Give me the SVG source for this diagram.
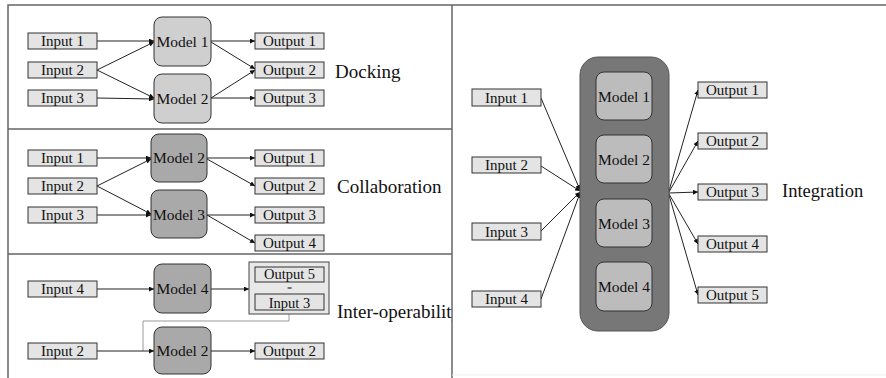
<svg xmlns="http://www.w3.org/2000/svg" width="886" height="378" viewBox="0 0 886 378">
  <defs>
    <marker id="arrow" viewBox="0 0 6 6" refX="6" refY="3" markerWidth="5" markerHeight="5" markerUnits="userSpaceOnUse" orient="auto">
      <path d="M0,0 L6,3 L0,6 Z" fill="#111"/>
    </marker>
    <clipPath id="leftPanel">
      <rect x="8" y="0" width="444" height="378"/>
    </clipPath>
  </defs>
  <style>
    text { font-family: "Liberation Serif", "Times New Roman", serif; fill: #111; }
    .lbl { font-size: 15px; text-anchor: middle; }
    .mlbl { font-size: 15.5px; text-anchor: middle; }
    .title { font-size: 19px; }
    .io { fill: #e4e4e4; stroke: #333; stroke-width: 1; }
    .mLight { fill: #cfcfcf; stroke: #333; stroke-width: 1; }
    .mDark { fill: #a9a9a9; stroke: #333; stroke-width: 1; }
    .mInner { fill: #bcbcbc; stroke: #333; stroke-width: 1; }
    .frame { fill: none; stroke: #666; stroke-width: 1.5; }
    .edge { fill: none; stroke: #222; stroke-width: 1; marker-end: url(#arrow); }
    .link { fill: none; stroke: #999; stroke-width: 1; }
  </style>

  <rect width="886" height="378" fill="#fff"/>

  <!-- panel frames -->
  <g id="frames">
    <path class="frame" d="M8,378 V5 H886"/>
    <path class="frame" d="M452,5 V378"/>
    <path class="frame" d="M8,129 H452 M8,254 H452"/>
    <path d="M452,375 H886" stroke="#eee" stroke-width="1"/>
  </g>

  <!-- connectors -->
  <g id="connectors">
    <!-- Docking -->
    <line class="edge" x1="97" y1="41" x2="154" y2="41"/>
    <line class="edge" x1="97" y1="70" x2="154" y2="42"/>
    <line class="edge" x1="97" y1="70" x2="154" y2="98"/>
    <line class="edge" x1="97" y1="98" x2="154" y2="99"/>
    <line class="edge" x1="211" y1="41" x2="255" y2="41"/>
    <line class="edge" x1="211" y1="42" x2="255" y2="69"/>
    <line class="edge" x1="211" y1="98" x2="255" y2="70"/>
    <line class="edge" x1="211" y1="98" x2="255" y2="98"/>
    <!-- Collaboration -->
    <line class="edge" x1="97" y1="158" x2="151" y2="158"/>
    <line class="edge" x1="97" y1="186" x2="151" y2="159"/>
    <line class="edge" x1="97" y1="186" x2="151" y2="214"/>
    <line class="edge" x1="97" y1="215" x2="151" y2="215"/>
    <line class="edge" x1="207" y1="158" x2="255" y2="158"/>
    <line class="edge" x1="207" y1="159" x2="255" y2="186"/>
    <line class="edge" x1="207" y1="215" x2="255" y2="215"/>
    <line class="edge" x1="207" y1="215" x2="255" y2="243"/>
    <!-- Inter-operability -->
    <line class="edge" x1="97" y1="289" x2="154" y2="289"/>
    <line class="edge" x1="211" y1="289" x2="249" y2="289"/>
    <path class="link" d="M289,314 V321 H143 V351"/>
    <line class="edge" x1="97" y1="351" x2="154" y2="351"/>
    <line class="edge" x1="211" y1="351" x2="255" y2="351"/>
    <!-- Integration -->
    <line class="edge" x1="541" y1="98" x2="580" y2="190"/>
    <line class="edge" x1="541" y1="166" x2="580" y2="191"/>
    <line class="edge" x1="541" y1="231" x2="580" y2="192"/>
    <line class="edge" x1="541" y1="299" x2="580" y2="193"/>
    <line class="edge" x1="669" y1="191" x2="698" y2="90"/>
    <line class="edge" x1="669" y1="192" x2="698" y2="141"/>
    <line class="edge" x1="669" y1="193" x2="698" y2="192"/>
    <line class="edge" x1="669" y1="194" x2="698" y2="244"/>
    <line class="edge" x1="669" y1="195" x2="698" y2="295"/>
  </g>

  <!-- Docking -->
  <g id="dock-input1"><rect class="io" x="28" y="33" width="69" height="16"/><text class="lbl" x="62.5" y="46">Input 1</text></g>
  <g id="dock-input2"><rect class="io" x="28" y="62" width="69" height="16"/><text class="lbl" x="62.5" y="75">Input 2</text></g>
  <g id="dock-input3"><rect class="io" x="28" y="90" width="69" height="16"/><text class="lbl" x="62.5" y="103">Input 3</text></g>
  <g id="dock-model1"><rect class="mLight" x="154" y="17" width="57" height="49" rx="8"/><text class="mlbl" x="182.5" y="46.5">Model 1</text></g>
  <g id="dock-model2"><rect class="mLight" x="154" y="74" width="57" height="49" rx="8"/><text class="mlbl" x="182.5" y="103.5">Model 2</text></g>
  <g id="dock-output1"><rect class="io" x="255" y="33" width="69" height="16"/><text class="lbl" x="289.5" y="46">Output 1</text></g>
  <g id="dock-output2"><rect class="io" x="255" y="62" width="69" height="16"/><text class="lbl" x="289.5" y="75">Output 2</text></g>
  <g id="dock-output3"><rect class="io" x="255" y="90" width="69" height="16"/><text class="lbl" x="289.5" y="103">Output 3</text></g>
  <text class="title" x="335" y="78">Docking</text>

  <!-- Collaboration -->
  <g id="coll-input1"><rect class="io" x="28" y="150" width="69" height="16"/><text class="lbl" x="62.5" y="163">Input 1</text></g>
  <g id="coll-input2"><rect class="io" x="28" y="178" width="69" height="16"/><text class="lbl" x="62.5" y="191">Input 2</text></g>
  <g id="coll-input3"><rect class="io" x="28" y="207" width="69" height="16"/><text class="lbl" x="62.5" y="220">Input 3</text></g>
  <g id="coll-model2"><rect class="mDark" x="151" y="134" width="56" height="48" rx="8"/><text class="mlbl" x="179" y="163">Model 2</text></g>
  <g id="coll-model3"><rect class="mDark" x="151" y="190" width="56" height="48" rx="8"/><text class="mlbl" x="179" y="219.5">Model 3</text></g>
  <g id="coll-output1"><rect class="io" x="255" y="150" width="69" height="16"/><text class="lbl" x="289.5" y="163">Output 1</text></g>
  <g id="coll-output2"><rect class="io" x="255" y="178" width="69" height="16"/><text class="lbl" x="289.5" y="191">Output 2</text></g>
  <g id="coll-output3"><rect class="io" x="255" y="207" width="69" height="16"/><text class="lbl" x="289.5" y="220">Output 3</text></g>
  <g id="coll-output4"><rect class="io" x="255" y="235" width="69" height="16"/><text class="lbl" x="289.5" y="248">Output 4</text></g>
  <text class="title" x="337" y="193">Collaboration</text>

  <!-- Inter-operability -->
  <g id="inter-input4"><rect class="io" x="28" y="281" width="69" height="16"/><text class="lbl" x="62.5" y="294">Input 4</text></g>
  <g id="inter-model4"><rect class="mDark" x="154" y="264" width="57" height="49" rx="8"/><text class="mlbl" x="182.5" y="293.5">Model 4</text></g>
  <g id="inter-bridge">
    <rect x="249" y="262" width="80" height="52" fill="#e8e8e8" stroke="#444" stroke-width="1"/>
    <rect class="io" x="255" y="267" width="69" height="15"/><text class="lbl" x="289.5" y="279" style="font-size:14.5px">Output 5</text>
    <text x="289.5" y="291" style="font-size:9px; text-anchor:middle">=</text>
    <rect class="io" x="255" y="294" width="69" height="16"/><text class="lbl" x="289.5" y="307.5" style="font-size:14.5px">Input 3</text>
  </g>
  <g id="inter-input2"><rect class="io" x="28" y="343" width="69" height="16"/><text class="lbl" x="62.5" y="356">Input 2</text></g>
  <g id="inter-model2"><rect class="mDark" x="154" y="327" width="57" height="47" rx="8"/><text class="mlbl" x="182.5" y="356">Model 2</text></g>
  <g id="inter-output2"><rect class="io" x="255" y="343" width="69" height="16"/><text class="lbl" x="289.5" y="356">Output 2</text></g>
  <text class="title" x="337" y="318" clip-path="url(#leftPanel)">Inter-operability</text>

  <!-- Integration -->
  <g id="int-container"><rect x="580" y="57" width="89" height="274" rx="18" fill="#777" stroke="#555" stroke-width="1"/></g>
  <g id="int-model1"><rect class="mInner" x="596" y="72" width="56" height="48" rx="8"/><text class="mlbl" x="624" y="101.5">Model 1</text></g>
  <g id="int-model2"><rect class="mInner" x="596" y="135" width="56" height="48" rx="8"/><text class="mlbl" x="624" y="164.5">Model 2</text></g>
  <g id="int-model3"><rect class="mInner" x="596" y="199" width="56" height="48" rx="8"/><text class="mlbl" x="624" y="228.5">Model 3</text></g>
  <g id="int-model4"><rect class="mInner" x="596" y="262" width="56" height="49" rx="8"/><text class="mlbl" x="624" y="291.5">Model 4</text></g>
  <g id="int-input1"><rect class="io" x="472" y="89" width="69" height="17"/><text class="lbl" x="506.5" y="102.5">Input 1</text></g>
  <g id="int-input2"><rect class="io" x="472" y="157" width="69" height="16"/><text class="lbl" x="506.5" y="170">Input 2</text></g>
  <g id="int-input3"><rect class="io" x="472" y="223" width="69" height="17"/><text class="lbl" x="506.5" y="236.5">Input 3</text></g>
  <g id="int-input4"><rect class="io" x="472" y="291" width="69" height="16"/><text class="lbl" x="506.5" y="304">Input 4</text></g>
  <g id="int-output1"><rect class="io" x="698" y="82" width="69" height="16"/><text class="lbl" x="732.5" y="95">Output 1</text></g>
  <g id="int-output2"><rect class="io" x="698" y="133" width="69" height="16"/><text class="lbl" x="732.5" y="146">Output 2</text></g>
  <g id="int-output3"><rect class="io" x="698" y="184" width="69" height="16"/><text class="lbl" x="732.5" y="197">Output 3</text></g>
  <g id="int-output4"><rect class="io" x="698" y="236" width="69" height="16"/><text class="lbl" x="732.5" y="249">Output 4</text></g>
  <g id="int-output5"><rect class="io" x="698" y="287" width="69" height="16"/><text class="lbl" x="732.5" y="300">Output 5</text></g>
  <text class="title" x="782" y="197" style="font-size:18.5px">Integration</text>
</svg>
